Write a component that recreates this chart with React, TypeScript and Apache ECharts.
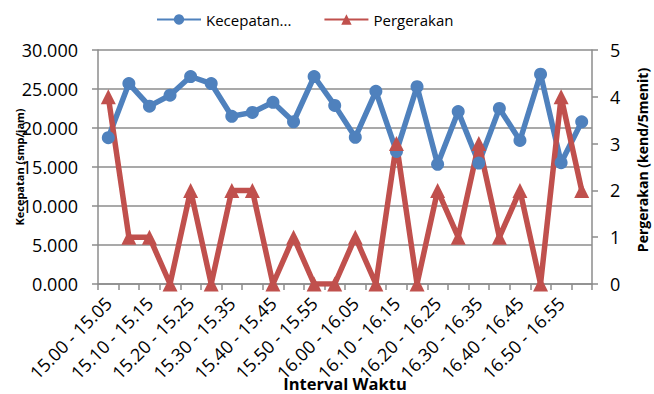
import React, { useEffect, useRef } from "react";
import * as echarts from "echarts";

const categories = [
  "15.00 - 15.05", "15.05 - 15.10", "15.10 - 15.15", "15.15 - 15.20",
  "15.20 - 15.25", "15.25 - 15.30", "15.30 - 15.35", "15.35 - 15.40",
  "15.40 - 15.45", "15.45 - 15.50", "15.50 - 15.55", "15.55 - 16.00",
  "16.00 - 16.05", "16.05 - 16.10", "16.10 - 16.15", "16.15 - 16.20",
  "16.20 - 16.25", "16.25 - 16.30", "16.30 - 16.35", "16.35 - 16.40",
  "16.40 - 16.45", "16.45 - 16.50", "16.50 - 16.55", "16.55 - 17.00",
];

const kecepatan = [
  18760, 25700, 22800, 24200, 26600, 25700, 21500, 22000,
  23300, 20800, 26600, 22900, 18800, 24700, 17000, 25300,
  15350, 22100, 15500, 22500, 18400, 26900, 15550, 20800,
];

const pergerakan = [
  4, 1, 1, 0, 2, 0, 2, 2, 0, 1, 0, 0,
  1, 0, 3, 0, 2, 1, 3, 1, 2, 0, 4, 2,
];

const xTitle = "Interval Waktu";
const leftTitle = "Kecepatan (smp/jam)";
const rightTitle = "Pergerakan (kend/5menit)";

const FONT = "Open Sans";
const BLUE = "#4F81BD";
const RED = "#C0504D";
const GRAY = "#8c8c8c";

export default function App() {
  const ref = useRef<HTMLDivElement>(null);
  useEffect(() => {
    if (!ref.current) return;
    const chart = echarts.init(ref.current, undefined, { renderer: "svg" });
    chart.setOption({
      animation: false,
      textStyle: { fontFamily: FONT },
      legend: {
        top: 7,
        left: 151,
        itemWidth: 44,
        itemHeight: 13,
        itemGap: 32,
        textStyle: { fontFamily: FONT, fontSize: 15, color: "#000" },
        formatter: (n: string) => (n.startsWith("Kecepatan") ? "Kecepatan..." : n),
        data: ["Kecepatan (smp/jam)", "Pergerakan"],
      },
      grid: { left: 98, right: 62, top: 50, bottom: 110, outerBoundsMode: "none", containLabel: false },
      graphic: [
        {
          type: "text",
          x: 345,
          y: 383,
          z: 10,
          style: {
            text: xTitle,
            fontFamily: FONT,
            fontSize: 16.5,
            fontWeight: "bold",
            fill: "#000",
            align: "center",
            verticalAlign: "middle",
          },
        },
        {
          type: "text",
          x: 19,
          y: 167,
          rotation: Math.PI / 2,
          style: {
            text: leftTitle,
            fontFamily: FONT,
            fontSize: 11,
            fontWeight: "bold",
            fill: "#000",
            align: "center",
            verticalAlign: "middle",
          },
        },
        {
          type: "text",
          x: 642,
          y: 160,
          rotation: Math.PI / 2,
          style: {
            text: rightTitle,
            fontFamily: FONT,
            fontSize: 14,
            fontWeight: "bold",
            fill: "#000",
            align: "center",
            verticalAlign: "middle",
          },
        },
      ],
      xAxis: {
        type: "category",
        data: categories,
        boundaryGap: true,
        axisLine: { lineStyle: { color: GRAY, width: 1.5 } },
        axisTick: { show: true, interval: 0, length: 6, lineStyle: { color: GRAY, width: 1.5 } },
        axisLabel: {
          interval: 1,
          rotate: 45,
          fontFamily: FONT,
          fontSize: 18,
          color: "#000",
          margin: 16,
        },
      },
      yAxis: [
        {
          type: "value",
          min: 0,
          max: 30000,
          interval: 5000,
          axisLine: { show: true, lineStyle: { color: GRAY, width: 1.5 } },
          axisTick: { show: true, length: 6, lineStyle: { color: GRAY, width: 1.5 } },
          axisLabel: {
            fontFamily: FONT,
            fontSize: 18,
            color: "#000",
            margin: 20,
            formatter: (v: number) => (v / 1000).toFixed(3),
          },
          splitLine: { lineStyle: { color: GRAY, width: 1.5 } },
        },
        {
          type: "value",
          min: 0,
          max: 5,
          interval: 1,
          axisLine: { show: true, lineStyle: { color: GRAY, width: 1.5 } },
          axisTick: { show: true, length: 6, lineStyle: { color: GRAY, width: 1.5 } },
          axisLabel: { fontFamily: FONT, fontSize: 18, color: "#000", margin: 18 },
          splitLine: { show: false },
        },
      ],
      series: [
        {
          name: "Kecepatan (smp/jam)",
          type: "line",
          yAxisIndex: 0,
          data: kecepatan,
          symbol: "circle",
          symbolSize: 13,
          showAllSymbol: true,
          itemStyle: { color: BLUE },
          lineStyle: { color: BLUE, width: 5.5 },
        },
        {
          name: "Pergerakan",
          type: "line",
          yAxisIndex: 1,
          data: pergerakan,
          symbol: "triangle",
          symbolSize: 15,
          showAllSymbol: true,
          itemStyle: { color: RED },
          lineStyle: { color: RED, width: 5.5 },
        },
      ],
    });
    return () => chart.dispose();
  }, []);
  return <div ref={ref} style={{ width: 654, height: 394, position: "absolute", left: 0, top: 0 }} />;
}
